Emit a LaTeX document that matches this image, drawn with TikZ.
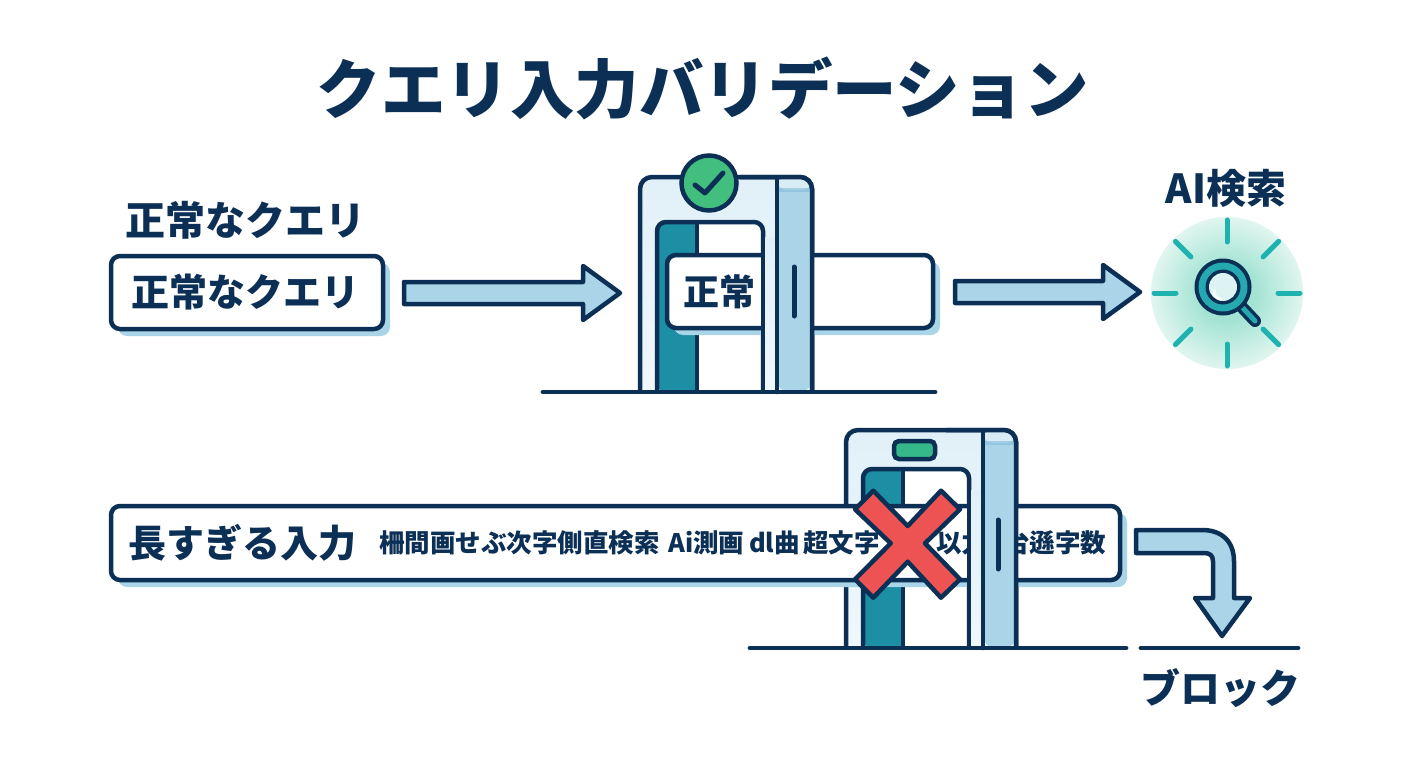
\documentclass[tikz,border=0pt]{standalone}
\usepackage{fontspec}
\setmainfont{Noto Sans CJK JP}
\usetikzlibrary{calc,shadows}
\definecolor{navy}{HTML}{0B2F55}
\definecolor{sky}{HTML}{AAD5E9}
\definecolor{skytop}{HTML}{D8ECF6}
\definecolor{skyband}{HTML}{82BCD8}
\definecolor{panel}{HTML}{E1F0F8}
\definecolor{panellow}{HTML}{EFF8FB}
\definecolor{tealstrip}{HTML}{1C8FA4}
\definecolor{okgreen}{HTML}{42BF7F}
\definecolor{lampgreen}{HTML}{36B98A}
\definecolor{xred}{HTML}{EE5353}
\definecolor{ray}{HTML}{1FB3AF}
\definecolor{glowc}{HTML}{A2E3D3}
\definecolor{glowm}{HTML}{D5F2EA}
\definecolor{lens}{HTML}{DDF3F3}
\definecolor{ringc}{HTML}{25A8B0}
\pgfdeclareradialshading{glowshade}{\pgfpointorigin}{color(0bp)=(glowc);color(9bp)=(glowc);color(22bp)=(glowm);color(33bp)=(white);color(50bp)=(white)}
\tikzset{
  x=1pt,y=-1pt,
  ink/.style={draw=navy,line width=4.5pt},
  qbox/.style={ink,fill=white,rounded corners=9pt,inner sep=0pt,
    drop shadow={shadow xshift=7pt,shadow yshift=-7pt,opacity=1,fill=sky}},
  txt/.style={text=navy,font=\bfseries,inner sep=0pt},
  block/.style={ink,fill=sky,line join=round},
  ground/.style={draw=navy,line width=4.5pt,line cap=round},
}
\newcommand{\fs}[1]{\fontsize{#1}{#1}\selectfont}
% #1 x, #2 y, #3 height, #4 inner top, #5 width
\newcommand{\gateback}[5]{%
  \begin{scope}[shift={(#1,#2)}]
    \shade[top color=panel,bottom color=panellow,rounded corners=12pt]
      (0,#3) -- (0,0) -- (#5,0) -- (#5,#3) -- cycle;
    \draw[ink,rounded corners=12pt] (0,#3) -- (0,0) -- (#5,0) -- (#5,#3);
    \fill[white,rounded corners=9pt] (17,#3) -- (17,#4) -- (123,#4) -- (123,#3) -- cycle;
    \fill[tealstrip,rounded corners=9pt] (17,#3) -- (17,#4) -- (57,#4) -- (57,#3) -- cycle;
    \fill[tealstrip] (30,#4) rectangle (57,#3);
    \draw[ink] (57,#4) -- (57,#3);
    \draw[ink,rounded corners=9pt] (17,#3) -- (17,#4) -- (123,#4) -- (123,#3);
  \end{scope}}
\newcommand{\gatefront}[5]{%
  \begin{scope}[shift={(#1,#2)}]
    \shade[top color=panel,bottom color=panellow] (123,60) rectangle (137,#3);
    \fill[sky,rounded corners=12pt] (137,#3) -- (137,0) -- (#5,0) -- (#5,#3) -- cycle;
    \fill[skytop,rounded corners=10pt] (137,13) -- (137,0) -- (#5,0) -- (#5,13) -- cycle;
    \fill[skyband,opacity=.6] (139,11) rectangle (#5-2,15);
    \draw[ink,line cap=round] (137,2) -- (137,#3);
    \draw[ink] (123,60) -- (123,#3);
    \draw[ink,rounded corners=12pt] (100,0) -- (#5,0) -- (#5,#3);
    \draw[navy,line width=5pt,line cap=round] (#5-18,90) -- (#5-18,139);
  \end{scope}}
\newcommand{\blockarrow}[2]{%
  \draw[block] ($(#1)+(0,-11)$) -- ($(#2)+(-37,-11)$) -- ($(#2)+(-37,-27)$) -- (#2)
    -- ($(#2)+(-37,27)$) -- ($(#2)+(-37,11)$) -- ($(#1)+(0,11)$) -- cycle;}
\begin{document}
\begin{tikzpicture}
\useasboundingbox (0,0) rectangle (1408,768);
\fill[white] (0,0) rectangle (1408,768);

% title
\node[txt] (title) at (703,88.5) {\fs{64.5}クエリ入力バリデーション};

% top row, left
\node[txt] (lab1) at (245,220) {\fs{40}正常なクエリ};
\node[qbox,minimum width=272pt,minimum height=73pt] (q1) at (247,292.5) {};
\node[txt] (q1t) at (245,292) {\fs{38}正常なクエリ};
\coordinate (a1s) at (404,293);
\coordinate (a1e) at (620,293);
\blockarrow{a1s}{a1e}

% top gate
\gateback{640}{177}{215}{45}{172}
\node[qbox,minimum width=266pt,minimum height=73pt] (q2) at (800,291.5) {};
\node[txt] (q2t) at (719,292) {\fs{36}正常};
\gatefront{640}{177}{215}{45}{172}
\node[circle,ink,fill=okgreen,minimum size=55pt,inner sep=0pt] (badge) at (709,183) {};
\draw[navy,line width=5pt,line cap=round,line join=round] (695,185) -- (705,193) -- (723,173);
\node[inner sep=0pt,minimum width=392pt,minimum height=0pt] (floor1) at (739,392) {};
\draw[ground] (floor1.west) -- (floor1.east);

\coordinate (a2s) at (955,292);
\coordinate (a2e) at (1140,292);
\blockarrow{a2s}{a2e}

% AI search
\node[txt] (lab2) at (1226,188) {\fs{40}AI検索};
\shade[shading=glowshade] (1227,293) circle (76);
\foreach \a in {0,45,...,315}{
  \draw[ray,line width=5pt,line cap=round] ($(1227,293)+(\a:51)$) -- ($(1227,293)+(\a:73)$);
}
\coordinate (mag) at (1223,287);
\draw[navy,line width=12pt,line cap=round] (1239,304) -- (1255,321);
\draw[ringc,line width=5pt,line cap=round] (1241,306) -- (1255,321);
\fill[navy] (mag) circle (28.5);
\fill[ringc] (mag) circle (24.5);
\fill[navy] (mag) circle (17.5);
\fill[lens] (mag) circle (14);
\draw[white,line width=2.5pt,line cap=round] (1214,290) arc (190:100:8);

% bottom gate
\gateback{846}{430}{218}{39}{170}
\node[ink,fill=lampgreen,rounded corners=5pt,minimum width=41pt,minimum height=18pt,inner sep=0pt] (lamp) at (914.5,450) {};
\node[qbox,minimum width=1009pt,minimum height=74pt] (q3) at (615.5,543) {};
\node[txt,anchor=west] (q3a) at (128,543) {\fs{38}長すぎる入力};
\node[txt,anchor=west] (q3b) at (379,543) {\fs{25.5}柵間画せぶ次字側直検索};
\node[txt,anchor=west] (q3c) at (668,543) {\fs{25.5}Ai測画};
\node[txt,anchor=west] (q3d) at (749,543) {\fs{25.5}dl曲};
\node[txt,anchor=west] (q3e) at (803,543) {\fs{25.5}超文字};
\node[txt,anchor=west] (q3f) at (936,543) {\fs{25.5}以力};
\node[txt,anchor=west] (q3g) at (1004,543) {\fs{25.5}台遜字数};
\gatefront{846}{430}{218}{39}{170}
\draw[ink,fill=xred,line join=round]
  (873.3,490.7) -- (907.7,526) -- (941,490.7) -- (960,509.3) -- (925,543.3) -- (960,579.3)
  -- (941,597.7) -- (907.7,561.7) -- (873.3,597.7) -- (855,579.3) -- (890.7,543.3) -- (855,509.3) -- cycle;
\node[inner sep=0pt,minimum width=376pt,minimum height=0pt] (floor2) at (938,648) {};
\draw[ground] (floor2.west) -- (floor2.east);

% block
\node[inner sep=0pt,minimum width=157pt,minimum height=0pt] (floor3) at (1219.5,648) {};
\draw[ground] (floor3.west) -- (floor3.east);
\coordinate (a3s) at (1136,541.5);
\coordinate (a3e) at (1222,636);
\draw[block] ($(a3s)+(0,-11.5)$) -- ($(a3s)+(66,-11.5)$)
  .. controls ($(a3s)+(86,-11.5)$) and ($(a3s)+(98,0)$) .. ($(a3s)+(98,20)$)
  -- ($(a3e)+(12,-38)$) -- ($(a3e)+(28,-38)$) -- (a3e) -- ($(a3e)+(-27,-38)$) -- ($(a3e)+(-9,-38)$)
  -- ($(a3s)+(77,20)$) .. controls ($(a3s)+(77,14)$) and ($(a3s)+(74,11.5)$) .. ($(a3s)+(68,11.5)$)
  -- ($(a3s)+(0,11.5)$) -- cycle;
\node[txt] (lab3) at (1220,688) {\fs{40}ブロック};
\end{tikzpicture}
\end{document}
